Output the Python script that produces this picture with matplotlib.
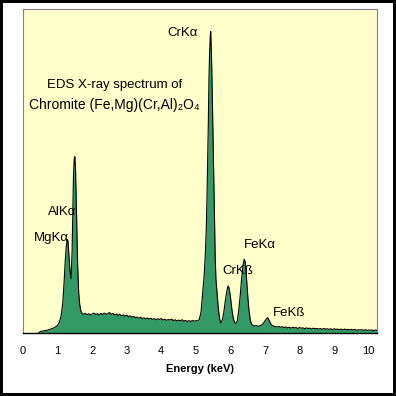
import matplotlib
matplotlib.use("Agg")
import matplotlib.pyplot as plt
import numpy as np

plt.rcParams['font.family'] = ['Liberation Sans', 'DejaVu Sans']

# (energy keV, counts), in segments
mg_al_region = [
    (0.45, 0.0), (0.50, 0.5), (0.60, 0.7), (0.70, 0.9), (0.80, 1.3), (0.90, 1.7),
    (1.00, 2.5), (1.05, 3.5), (1.10, 5.5), (1.15, 10.0), (1.19, 17.0), (1.22, 23.5),
    (1.25, 28.5), (1.28, 31.0), (1.30, 30.5), (1.33, 25.5), (1.36, 20.5), (1.39, 18.0),
    (1.42, 27.0), (1.44, 40.0), (1.46, 52.0), (1.48, 57.5), (1.50, 58.5), (1.52, 54.0),
    (1.55, 38.0), (1.58, 23.0), (1.61, 13.5), (1.64, 9.5), (1.67, 7.5), (1.70, 6.6),
]
continuum = [
    (1.75, 6.2), (1.80, 6.5), (1.85, 6.1), (1.90, 6.4), (1.95, 6.0), (2.00, 6.3),
    (2.05, 6.6), (2.10, 6.2), (2.15, 6.4), (2.20, 6.0), (2.25, 6.5), (2.30, 6.1),
    (2.35, 6.6), (2.40, 6.2), (2.45, 6.4), (2.50, 6.8), (2.55, 6.2), (2.60, 6.5),
    (2.65, 6.0), (2.70, 6.3), (2.75, 5.8), (2.80, 6.2), (2.85, 5.7), (2.90, 6.0),
    (2.95, 5.6), (3.00, 5.9), (3.05, 5.4), (3.10, 5.7), (3.15, 5.2), (3.20, 5.5),
    (3.25, 5.1), (3.30, 5.3), (3.35, 4.9), (3.40, 5.2), (3.45, 4.8), (3.50, 5.0),
    (3.55, 4.7), (3.60, 5.0), (3.65, 4.6), (3.70, 4.9), (3.75, 4.5), (3.80, 4.8),
    (3.85, 4.4), (3.90, 4.7), (3.95, 4.5), (4.00, 4.8), (4.05, 4.3), (4.10, 4.6),
    (4.15, 4.2), (4.20, 4.5), (4.25, 4.3), (4.30, 4.6), (4.35, 4.1), (4.40, 4.4),
    (4.45, 4.0), (4.50, 4.3), (4.55, 4.0), (4.60, 4.4), (4.65, 3.9), (4.70, 4.2),
    (4.75, 3.8), (4.80, 4.1), (4.85, 3.8), (4.90, 4.2), (4.95, 3.9), (5.00, 4.1),
    (5.05, 4.0),
]
cr_fe_region = [
    (5.10, 4.5), (5.15, 7.0), (5.20, 13.6), (5.24, 19.0), (5.27, 25.0), (5.30, 34.0),
    (5.32, 43.5), (5.34, 56.0), (5.36, 69.0), (5.38, 85.0), (5.40, 94.0), (5.42, 99.0),
    (5.43, 100.0), (5.45, 93.0), (5.47, 82.0), (5.49, 69.0), (5.51, 56.0), (5.53, 43.5),
    (5.56, 25.0), (5.58, 18.0), (5.61, 13.6), (5.65, 8.0), (5.69, 4.5), (5.72, 3.3),
    (5.77, 4.5), (5.81, 7.0), (5.85, 10.5), (5.89, 13.5), (5.93, 15.6), (5.96, 15.0),
    (6.00, 12.0), (6.04, 8.0), (6.08, 5.0), (6.12, 3.5), (6.16, 3.2), (6.20, 4.0),
    (6.24, 7.5), (6.28, 12.0), (6.32, 17.5), (6.36, 22.0), (6.40, 24.5), (6.43, 23.5),
    (6.46, 19.0), (6.50, 12.5), (6.54, 7.0), (6.58, 4.0), (6.62, 2.8), (6.66, 2.5),
    (6.70, 2.3), (6.75, 2.5), (6.80, 2.2), (6.85, 2.4), (6.90, 2.6), (6.95, 3.2),
    (7.00, 4.0), (7.05, 4.8), (7.08, 5.1), (7.12, 4.2), (7.16, 3.2), (7.20, 2.6),
    (7.25, 2.3), (7.30, 2.1),
]
tail = [
    (7.35, 2.0), (7.40, 2.2), (7.45, 1.9), (7.50, 2.1), (7.55, 1.8), (7.60, 2.0),
    (7.65, 1.7), (7.70, 1.9), (7.75, 1.6), (7.80, 1.9), (7.85, 1.7), (7.90, 1.8),
    (7.95, 1.5), (8.00, 1.8), (8.05, 1.6), (8.10, 1.7), (8.15, 1.4), (8.20, 1.7),
    (8.25, 1.5), (8.30, 1.6), (8.35, 1.3), (8.40, 1.6), (8.45, 1.4), (8.50, 1.5),
    (8.55, 1.3), (8.60, 1.5), (8.65, 1.2), (8.70, 1.5), (8.75, 1.3), (8.80, 1.4),
    (8.85, 1.2), (8.90, 1.4), (8.95, 1.1), (9.00, 1.4), (9.05, 1.2), (9.10, 1.3),
    (9.15, 1.1), (9.20, 1.3), (9.25, 1.0), (9.30, 1.3), (9.35, 1.1), (9.40, 1.2),
    (9.45, 1.0), (9.50, 1.2), (9.55, 1.0), (9.60, 1.2), (9.65, 0.9), (9.70, 1.1),
    (9.75, 1.0), (9.80, 1.1), (9.85, 0.9), (9.90, 1.1), (9.95, 0.9), (10.00, 1.0),
    (10.05, 0.9), (10.10, 1.0), (10.15, 0.8), (10.20, 1.0), (10.24, 0.9),
]

# peak labels: text, x, y, horizontal alignment
peak_labels = [
    ("CrKα", 5.06, 99.5, 'right'),
    ("AlKα", 1.55, 40.0, 'right'),
    ("MgKα", 1.33, 31.6, 'right'),
    ("FeKα", 6.38, 29.2, 'left'),
    ("CrKß", 5.78, 20.6, 'left'),
    ("FeKß", 7.22, 6.6, 'left'),
]
title_lines = ["EDS X-ray spectrum of", "Chromite (Fe,Mg)(Cr,Al)₂O₄"]

spectrum = np.array(mg_al_region + continuum + cr_fe_region + tail)
energy = spectrum[:, 0]
counts = spectrum[:, 1]

fig = plt.figure(figsize=(3.96, 3.96), dpi=100)
fig.patch.set_edgecolor('black')
fig.patch.set_linewidth(3)
ax = fig.add_axes([23/396, 63/396, 354/396, 324/396])
ax.set_facecolor('#FFFFCC')

ax.fill_between(energy, counts, 0, color='#339966', linewidth=0)
ax.plot(energy, counts, color='black', linewidth=0.8)

ax.set_xlim(0.02, 10.24)
ax.set_ylim(0, 107.5)
ax.set_xticks(range(0, 11))
ax.set_yticks([])
ax.tick_params(axis='x', length=0, labelsize=8, pad=9)
ax.set_xlabel("Energy (keV)", fontsize=8, fontweight='bold', labelpad=6)

for side in ['top', 'left', 'right']:
    ax.spines[side].set_color('#808080')
    ax.spines[side].set_linewidth(0.8)
ax.spines['bottom'].set_color('black')
ax.spines['bottom'].set_linewidth(1.0)

for text, x, y, ha in peak_labels:
    ax.text(x, y, text, ha=ha, va='center', fontsize=9.5)

ax.text(2.65, 82.3, title_lines[0], ha='center', va='center', fontsize=9.5)
ax.text(2.65, 75.6, title_lines[1], ha='center', va='center', fontsize=10)

fig.savefig("out.png", dpi=100)
